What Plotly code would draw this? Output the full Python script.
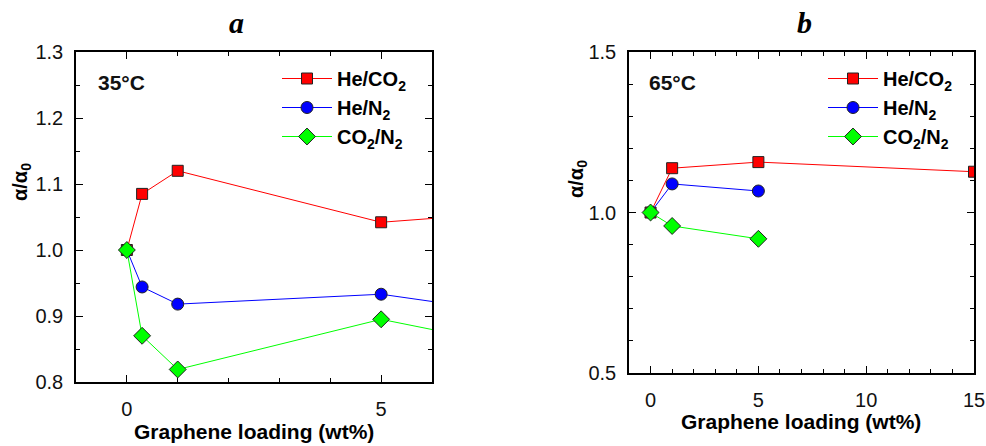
import plotly.graph_objects as go

# ---- data ----
series_names = ["He/CO<sub>2</sub>", "He/N<sub>2</sub>", "CO<sub>2</sub>/N<sub>2</sub>"]

# panel a (35 °C)
a_x = [0, 0.3, 1, 5, 15]
a_he_co2 = [1.0, 1.085, 1.12, 1.042, 1.10]
a_he_n2 = [1.0, 0.944, 0.918, 0.933, 0.823]
a_co2_n2 = [1.0, 0.870, 0.819, 0.895, 0.74]

# panel b (65 °C)
b_x_he_co2 = [0, 1, 5, 15]
b_he_co2 = [1.0, 1.138, 1.157, 1.127]
b_x_other = [0, 1, 5]
b_he_n2 = [1.0, 1.089, 1.067]
b_co2_n2 = [1.0, 0.958, 0.918]

colors = ["#FF0000", "#0000FF", "#00FF00"]
symbols = ["square", "circle", "diamond"]
sizes = [11, 12, 13]

W, H = 986, 446
FONT = "Arial, Liberation Sans, sans-serif"

fig = go.Figure()

def add(x, y, i, xa, ya, legend, show=True):
    fig.add_trace(go.Scatter(
        x=x, y=y, mode="lines+markers", name=series_names[i],
        line=dict(color=colors[i], width=1),
        marker=dict(symbol=symbols[i], size=sizes[i], color=colors[i],
                    line=dict(color="#222222", width=1)),
        xaxis=xa, yaxis=ya, legend=legend, showlegend=show))

add(a_x, a_he_co2, 0, "x", "y", "legend")
add(a_x, a_he_n2, 1, "x", "y", "legend")
add(a_x, a_co2_n2, 2, "x", "y", "legend")
add(b_x_he_co2, b_he_co2, 0, "x2", "y2", "legend2")
add(b_x_other, b_he_n2, 1, "x2", "y2", "legend2")
add(b_x_other, b_co2_n2, 2, "x2", "y2", "legend2")

axis_common = dict(showline=True, linecolor="black", linewidth=1.5, mirror="allticks",
                   ticks="inside", ticklen=7, tickwidth=1.2, tickcolor="black",
                   showgrid=False, zeroline=False, automargin=False,
                   tickfont=dict(family=FONT, size=20, color="#111111"))

def px_x(p):
    return p / W

def px_y(p):
    return 1 - p / H

legend_font = dict(family=FONT, size=20, weight="bold", color="black")

fig.update_layout(
    width=W, height=H, autosize=False,
    margin=dict(l=0, r=0, t=0, b=0, autoexpand=False),
    paper_bgcolor="white", plot_bgcolor="white",
    font=dict(family=FONT, color="black"),
    xaxis=dict(domain=[px_x(76), px_x(432)], range=[-1, 6], tickvals=[0, 5],
               minor=dict(ticks="inside", dtick=1, ticklen=4, tickcolor="black"),
               anchor="y", ticklabelstandoff=8, **axis_common),
    yaxis=dict(domain=[px_y(382), px_y(52)], range=[0.8, 1.3], dtick=0.1, tickformat=".1f",
               minor=dict(ticks="inside", dtick=0.05, ticklen=4, tickcolor="black"),
               anchor="x", ticklabelstandoff=7, **axis_common),
    xaxis2=dict(domain=[px_x(629), px_x(974)], range=[-1, 15], dtick=5,
                minor=dict(ticks="inside", dtick=1, ticklen=4, tickcolor="black"),
                anchor="y2", ticklabelstandoff=8, **axis_common),
    yaxis2=dict(domain=[px_y(373), px_y(52)], range=[0.5, 1.5], dtick=0.5, tickformat=".1f",
                minor=dict(ticks="inside", dtick=0.1, ticklen=4, tickcolor="black"),
                anchor="x2", ticklabelstandoff=7, **axis_common),
    legend=dict(x=px_x(277), y=px_y(59), xanchor="left", yanchor="top",
                bgcolor="rgba(0,0,0,0)", borderwidth=0, itemwidth=50,
                font=legend_font, tracegroupgap=0, itemsizing="trace"),
    legend2=dict(x=px_x(823), y=px_y(59), xanchor="left", yanchor="top",
                 bgcolor="rgba(0,0,0,0)", borderwidth=0, itemwidth=50,
                 font=legend_font, tracegroupgap=0, itemsizing="trace"),
    showlegend=True,
)

ann = []
title_font = dict(family="Liberation Serif, Times New Roman, serif", size=30,
                  weight="bold", style="italic", color="black")
for txt, xp in [("a", 236), ("b", 804)]:
    ann.append(dict(text=txt, x=px_x(xp), y=px_y(22), xref="paper", yref="paper",
                    showarrow=False, xanchor="center", yanchor="middle", font=title_font))
# temperature labels
for txt, xp in [("35°C", 96), ("65°C", 647)]:
    ann.append(dict(text=txt, x=px_x(xp), y=px_y(83), xref="paper", yref="paper",
                    showarrow=False, xanchor="left", yanchor="middle",
                    font=dict(family=FONT, size=21, weight="bold", color="#111111")))
# y titles
for xp, yp in [(21, 182), (578, 179)]:
    ann.append(dict(text="α/α<sub>0</sub>", x=px_x(xp), y=px_y(yp), xref="paper", yref="paper",
                    showarrow=False, textangle=-90, xanchor="center", yanchor="middle",
                    font=dict(family=FONT, size=20, weight="bold", color="black")))
# x titles
for xp, yp in [(254, 431), (801, 421)]:
    ann.append(dict(text="Graphene loading (wt%)", x=px_x(xp), y=px_y(yp), xref="paper",
                    yref="paper", showarrow=False, xanchor="center", yanchor="middle",
                    font=dict(family=FONT, size=21, weight="bold", color="black")))
fig.update_layout(annotations=ann)

fig.write_html("out.html", config={"displayModeBar": False},
               post_script="document.body.style.margin='0';document.body.style.overflow='hidden';")
